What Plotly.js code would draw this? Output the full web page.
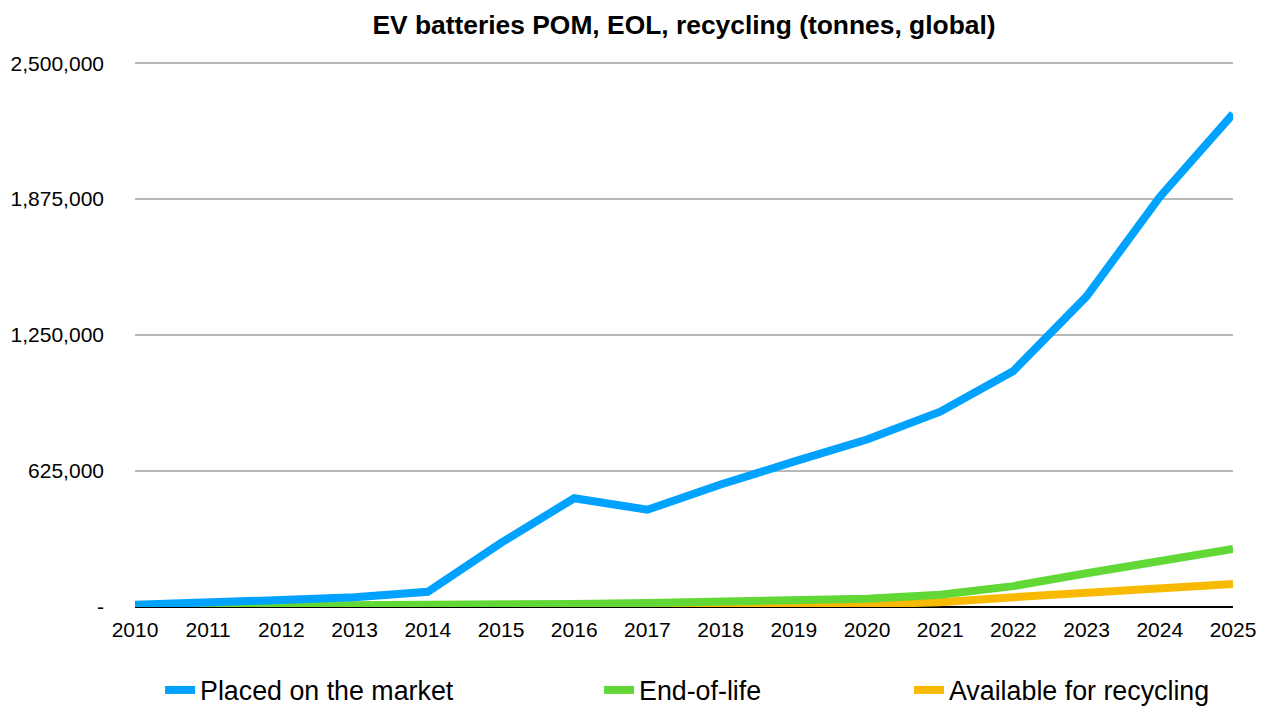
<!DOCTYPE html>
<html>
<head>
<meta charset="utf-8">
<script src="https://cdn.plot.ly/plotly-3.0.1.min.js"></script>
<style>html,body{margin:0;padding:0;background:#fff;}#chart{width:1263px;height:707px;}</style>
</head>
<body>
<div id="chart"></div>
<script>
const years = [2010, 2011, 2012, 2013, 2014, 2015, 2016, 2017, 2018, 2019, 2020, 2021, 2022, 2023, 2024, 2025];
const placedOnMarket = [10000, 18000, 32000, 45000, 70000, 295000, 500000, 447000, 563000, 668000, 770000, 898000, 1085000, 1428000, 1885000, 2267000];
const endOfLife = [2000, 3000, 5000, 7000, 9000, 11000, 14000, 18000, 23000, 29000, 38000, 56000, 96000, 155000, 210000, 267000];
const availableForRecycling = [0, 0, 0, 0, 0, 0, 1000, 2000, 4000, 7000, 12000, 22000, 45000, 63000, 84000, 106000];
const yTickVals = [0, 625000, 1250000, 1875000, 2500000];
const yTickText = ['-', '625,000', '1,250,000', '1,875,000', '2,500,000'];
const xTickVals = years;
const xTickText = years.map(String);
const seriesNames = ['Placed on the market', 'End-of-life', 'Available for recycling'];
const seriesColors = ['#00A2FF', '#61D836', '#F8BA00'];

const FONT = '"Liberation Sans", Arial, Helvetica, sans-serif';
const seriesData = [placedOnMarket, endOfLife, availableForRecycling];
const legendIds = ['legend', 'legend2', 'legend3'];

const traces = [2, 1, 0].map(i => ({
  type: 'scatter',
  mode: 'lines',
  x: years,
  y: seriesData[i],
  name: seriesNames[i],
  legend: legendIds[i],
  line: {color: seriesColors[i], width: 8},
  hoverinfo: 'x+y+name'
}));

const legendBase = {
  orientation: 'h',
  yanchor: 'middle',
  y: -0.152,
  xanchor: 'left',
  font: {family: FONT, size: 26.8, color: '#000'},
  bgcolor: 'rgba(0,0,0,0)',
  borderwidth: 0
};

const layout = {
  width: 1263,
  height: 707,
  paper_bgcolor: '#fff',
  plot_bgcolor: '#fff',
  margin: {l: 135, r: 30, t: 61, b: 100, pad: 0, autoexpand: false},
  font: {family: FONT, color: '#000'},
  title: {
    text: '<b>EV batteries POM, EOL, recycling (tonnes, global)</b>',
    font: {family: FONT, size: 26.4, color: '#000'},
    x: 0.5, xref: 'paper', xanchor: 'center',
    y: 1 - 25 / 707, yref: 'container', yanchor: 'middle'
  },
  xaxis: {
    range: [2010, 2025],
    tickvals: xTickVals,
    ticktext: xTickText,
    ticks: '',
    showgrid: false,
    zeroline: false,
    showline: false,
    tickfont: {family: FONT, size: 21, color: '#000'},
    ticklabelstandoff: 8,
    fixedrange: true
  },
  yaxis: {
    range: [0, 2510000],
    tickvals: yTickVals,
    ticktext: yTickText,
    ticks: '',
    showgrid: true,
    gridcolor: '#b8b8b8',
    gridwidth: 2,
    zeroline: true,
    zerolinecolor: '#000',
    zerolinewidth: 2,
    showline: false,
    tickfont: {family: FONT, size: 21, color: '#000'},
    ticklabelstandoff: 30,
    fixedrange: true
  },
  legend: Object.assign({}, legendBase, {x: 0.0228}),
  legend2: Object.assign({}, legendBase, {x: 0.4226}),
  legend3: Object.assign({}, legendBase, {x: 0.7049}),
  showlegend: true
};

Plotly.newPlot('chart', traces, layout, {displayModeBar: false, staticPlot: true});
</script>
</body>
</html>
